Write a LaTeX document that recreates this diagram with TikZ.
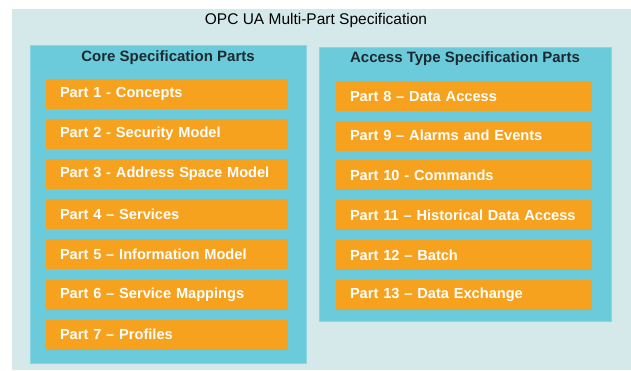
\documentclass[tikz,border=0pt]{standalone}
\usepackage{fontspec}
\setmainfont{Liberation Sans}
\usetikzlibrary{positioning}
\definecolor{bgpale}{HTML}{D6E9EA}
\definecolor{panelcyan}{HTML}{6CCBDB}
\definecolor{partorange}{HTML}{F6A21E}
\definecolor{headdark}{HTML}{1C2A30}
\tikzset{
        % Pale backdrop
        backdrop/.style={fill=bgpale, draw=none},
        % Cyan group panels
        panel/.style={rectangle, fill=panelcyan, draw=panelcyan!80!white, line width=0.8pt, inner sep=0pt},
        % Group headings
        heading/.style={align=center, inner sep=0pt, text=headdark, font=\fontsize{15}{18}\selectfont\bfseries},
        % Orange part boxes
        partbox/.style={rectangle, fill=partorange, text=white, align=left, inner xsep=14pt, inner ysep=0pt,
                        minimum height=30pt, font=\fontsize{14.6}{18}\selectfont\bfseries},
        corepart/.style={partbox, text width=214pt},
        accesspart/.style={partbox, text width=228pt}
}
\begin{document}
\begin{tikzpicture}[x=1pt, y=-1pt]
    \useasboundingbox (0,0) rectangle (631,370);
    \fill[backdrop] (12,9) rectangle (631,370);

    \node[align=center, inner sep=0pt, font=\fontsize{15.5}{18}\selectfont] (title) at (316,20) {OPC UA Multi-Part Specification};

    % Core specification parts
    \node[panel, minimum width=276pt, minimum height=318pt] (corepanel) at (168,204) {};
    \node[heading] (corehead) at (168,58) {Core Specification Parts};
    \node[corepart] (part1) at (167,94) {Part 1 - Concepts};
    \node[corepart, below=9.7pt of part1] (part2) {Part 2 - Security Model};
    \node[corepart, below=9.7pt of part2] (part3) {Part 3 - Address Space Model};
    \node[corepart, below=9.7pt of part3] (part4) {Part 4 -- Services};
    \node[corepart, below=9.7pt of part4] (part5) {Part 5 -- Information Model};
    \node[corepart, below=9.7pt of part5] (part6) {Part 6 -- Service Mappings};
    \node[corepart, below=9.7pt of part6] (part7) {Part 7 -- Profiles};

    % Access type specification parts
    \node[panel, minimum width=292pt, minimum height=274pt] (accesspanel) at (465,184) {};
    \node[heading] (accesshead) at (465,59) {Access Type Specification Parts};
    \node[accesspart] (part8) at (464,96) {Part 8 -- Data Access};
    \node[accesspart, below=9.3pt of part8] (part9) {Part 9 -- Alarms and Events};
    \node[accesspart, below=9.3pt of part9] (part10) {Part 10 - Commands};
    \node[accesspart, below=9.3pt of part10] (part11) {Part 11 -- Historical Data Access};
    \node[accesspart, below=9.3pt of part11] (part12) {Part 12 -- Batch};
    \node[accesspart, below=9.3pt of part12] (part13) {Part 13 -- Data Exchange};
\end{tikzpicture}
\end{document}
